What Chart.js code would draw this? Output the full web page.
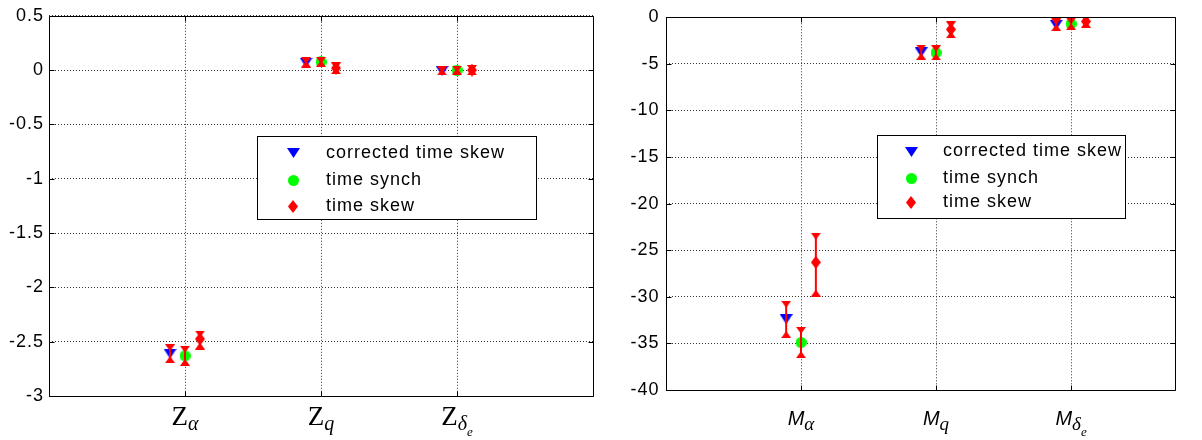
<!DOCTYPE html>
<html lang="en">
<head>
<meta charset="UTF-8">
<script src="https://cdn.jsdelivr.net/npm/chart.js"></script>
<title>Derivative estimates</title>
<style>
  html, body { margin: 0; padding: 0; background: #fff; }
  #wrap { position: relative; width: 1202px; height: 440px; }
  canvas { position: absolute; top: 0; }
</style>
</head>
<body>
<div id="wrap">
  <canvas id="left" width="600" height="440" style="left:0"></canvas>
  <canvas id="right" width="602" height="440" style="left:600px"></canvas>
</div>
<script>
// categories (main letter, subscript, sub-subscript)
const zCats = [['Z', 'α'], ['Z', 'q'], ['Z', 'δ', 'e']];
const mCats = [['M', 'α'], ['M', 'q'], ['M', 'δ', 'e']];
const seriesNames = ['corrected time skew', 'time synch', 'time skew'];

// left panel: estimate, lower and upper end of error bar
const zCorrected   = [-2.61, 0.070, -0.006];
const zCorrectedLo = [-2.665, 0.056, -0.016];
const zCorrectedHi = [-2.555, 0.089, 0.004];
const zSynch   = [-2.63, 0.075, 0.000];
const zSynchLo = [-2.69, 0.060, -0.010];
const zSynchHi = [-2.57, 0.090, 0.010];
const zSkew   = [-2.475, 0.018, 0.000];
const zSkewLo = [-2.54, -0.005, -0.015];
const zSkewHi = [-2.43, 0.038, 0.015];

// right panel
const mCorrected   = [-32.4, -3.75, -0.8];
const mCorrectedLo = [-34.05, -4.2, -1.1];
const mCorrectedHi = [-30.8, -3.3, -0.5];
const mSynch   = [-34.9, -3.8, -0.7];
const mSynchLo = [-36.2, -4.25, -1.0];
const mSynchHi = [-33.6, -3.35, -0.4];
const mSkew   = [-26.3, -1.3, -0.45];
const mSkewLo = [-29.6, -1.87, -0.75];
const mSkewHi = [-23.5, -0.8, -0.15];

const zTicks = [0.5, 0, -0.5, -1, -1.5, -2, -2.5, -3];
const mTicks = [0, -5, -10, -15, -20, -25, -30, -35, -40];

// marker images
function shape(w, h, pts, color) {
    const c = document.createElement('canvas');
    c.width = w; c.height = h;
    const g = c.getContext('2d');
    g.fillStyle = color;
    g.beginPath();
    pts.forEach(([px, py], i) => i ? g.lineTo(px * w, py * h) : g.moveTo(px * w, py * h));
    g.closePath();
    g.fill();
    return c;
}
function disc(d, color) {
    const c = document.createElement('canvas');
    c.width = d; c.height = d;
    const g = c.getContext('2d');
    g.fillStyle = color;
    g.beginPath();
    g.arc(d / 2, d / 2, d / 2, 0, Math.PI * 2);
    g.fill();
    return c;
}
const triDown = shape(13, 10, [[0, 0], [1, 0], [0.5, 1]], '#0000ff');
const dot = disc(11, '#00ff00');
const diamond = shape(10, 13, [[0.5, 0], [1, 0.5], [0.5, 1], [0, 0.5]], '#ff0000');
const capDown = shape(10, 7, [[0, 0], [1, 0], [0.5, 1]], '#ff0000');
const capUp = shape(10, 7, [[0.5, 0], [1, 1], [0, 1]], '#ff0000');
const legendMarkers = [triDown, dot, diamond];

const dodge = 0.11;

function markerSet(vals, k, img) {
    return {
        data: vals.map((v, i) => ({ x: i + 1 + (k - 1) * dodge, y: v })),
        pointStyle: img, pointRadius: 6, order: 2, showLine: false
    };
}
function errorSet(lo, hi, k) {
    const data = [], styles = [];
    lo.forEach((l, i) => {
        const x = i + 1 + (k - 1) * dodge;
        data.push({ x, y: l }, { x, y: hi[i] }, { x, y: null });
        styles.push(capUp, capDown, capUp);
    });
    return {
        data, showLine: true, spanGaps: false, borderColor: '#ff0000', borderWidth: 2,
        pointStyle: styles, pointRadius: 5, order: 1
    };
}

const tickFont = { family: '"Liberation Sans", Arial, sans-serif', size: 18 };

const spacing = {
    id: 'spacing',
    beforeDraw(chart) { chart.ctx.letterSpacing = '1px'; }
};

const frame = {
    id: 'frame',
    afterDraw(chart) {
        const { ctx, chartArea: a, scales: { x, y } } = chart;
        const L = Math.round(a.left) + 0.5, R = Math.round(a.right) + 0.5;
        const T = Math.round(a.top) + 0.5, B = Math.round(a.bottom) + 0.5;
        ctx.save();
        ctx.strokeStyle = '#000';
        ctx.lineWidth = 1;
        ctx.beginPath();
        ctx.rect(L, T, R - L, B - T);
        x.ticks.forEach(t => {
            const p = Math.round(x.getPixelForValue(t.value)) + 0.5;
            ctx.moveTo(p, B); ctx.lineTo(p, B - 5);
            ctx.moveTo(p, T); ctx.lineTo(p, T + 5);
        });
        y.ticks.forEach(t => {
            const p = Math.round(y.getPixelForValue(t.value)) + 0.5;
            ctx.moveTo(L, p); ctx.lineTo(L + 5, p);
            ctx.moveTo(R, p); ctx.lineTo(R - 5, p);
        });
        ctx.stroke();
        ctx.restore();
    }
};

const boxLegend = {
    id: 'boxLegend',
    afterDraw(chart, args, o) {
        const ctx = chart.ctx;
        ctx.save();
        ctx.fillStyle = '#fff';
        ctx.fillRect(o.x, o.y, o.w, o.h);
        ctx.strokeStyle = '#000';
        ctx.lineWidth = 1;
        ctx.strokeRect(o.x + 0.5, o.y + 0.5, o.w, o.h);
        ctx.font = '18px "Liberation Sans", Arial, sans-serif';
        ctx.letterSpacing = '1px';
        ctx.fillStyle = '#000';
        ctx.textBaseline = 'middle';
        seriesNames.forEach((name, i) => {
            const img = legendMarkers[i];
            ctx.drawImage(img, Math.round(o.mx - img.width / 2), Math.round(o.rows[i] - img.height / 2));
            ctx.fillText(name, o.tx, o.rows[i]);
        });
        ctx.restore();
    }
};

const catLabels = {
    id: 'catLabels',
    afterDraw(chart, args, o) {
        const { ctx, scales: { x } } = chart;
        const fonts = [o.mainFont, o.subFont, 'italic 13px "Liberation Serif", serif'];
        const drops = [0, 5, 11];
        ctx.save();
        ctx.letterSpacing = '0px';
        ctx.fillStyle = '#000';
        ctx.textBaseline = 'alphabetic';
        ctx.textAlign = 'left';
        o.cats.forEach((parts, i) => {
            const widths = parts.map((p, j) => { ctx.font = fonts[j]; return ctx.measureText(p).width; });
            const total = widths.reduce((s, w) => s + w, 0);
            let px = x.getPixelForValue(i + 1) - total / 2;
            parts.forEach((p, j) => {
                ctx.font = fonts[j];
                ctx.fillText(p, px, o.baseline + drops[j]);
                px += widths[j];
            });
        });
        ctx.restore();
    }
};

function makeChart(id, sets, cats, ticks, yMin, yMax, xMax, pad, yWidth, xHeight, yPad, legend, mainFont, subFont) {
    const datasets = [
        markerSet(sets[0][0], 0, triDown), markerSet(sets[1][0], 1, dot), markerSet(sets[2][0], 2, diamond),
        errorSet(sets[0][1], sets[0][2], 0), errorSet(sets[1][1], sets[1][2], 1), errorSet(sets[2][1], sets[2][2], 2)
    ];
    const grid = { color: '#333', lineWidth: 1, drawTicks: false };
    const border = { display: false, dash: [1, 2] };
    return new Chart(document.getElementById(id), {
        type: 'scatter',
        data: { datasets },
        options: {
            responsive: false,
            animation: false,
            layout: { padding: pad },
            plugins: {
                legend: { display: false },
                tooltip: { enabled: false },
                boxLegend: legend,
                catLabels: { cats, mainFont, subFont, baseline: 425 }
            },
            scales: {
                x: {
                    type: 'linear', min: 0, max: xMax,
                    afterBuildTicks: s => { s.ticks = cats.map((c, i) => ({ value: i + 1 })); },
                    ticks: { display: false },
                    grid, border,
                    afterFit: s => { s.height = xHeight; }
                },
                y: {
                    type: 'linear', min: yMin, max: yMax,
                    afterBuildTicks: s => { s.ticks = ticks.map(v => ({ value: v })); },
                    ticks: { font: tickFont, color: '#000', padding: yPad, callback: v => String(v) },
                    grid, border,
                    afterFit: s => { s.width = yWidth; }
                }
            }
        },
        plugins: [spacing, frame, boxLegend, catLabels]
    });
}

makeChart('left',
    [[zCorrected, zCorrectedLo, zCorrectedHi], [zSynch, zSynchLo, zSynchHi], [zSkew, zSkewLo, zSkewHi]],
    zCats, zTicks, -3, 0.5, 4,
    { top: 13, right: 3, left: 0, bottom: 0 }, 49, 44, 5,
    { x: 257, y: 136, w: 279, h: 83, mx: 293, tx: 326, rows: [153, 180.5, 206.5] },
    '27px "Liberation Serif", serif', 'italic 20px "Liberation Serif", serif');

makeChart('right',
    [[mCorrected, mCorrectedLo, mCorrectedHi], [mSynch, mSynchLo, mSynchHi], [mSkew, mSkewLo, mSkewHi]],
    mCats, mTicks, -40, 0, 3.77,
    { top: 13, right: 27, left: 0, bottom: 0 }, 66, 50, 6.5,
    { x: 277, y: 135, w: 248, h: 83, mx: 311, tx: 343, rows: [151.5, 178.5, 202] },
    'italic 20px "Liberation Sans", Arial, sans-serif', 'italic 19px "Liberation Serif", serif');
</script>
</body>
</html>
